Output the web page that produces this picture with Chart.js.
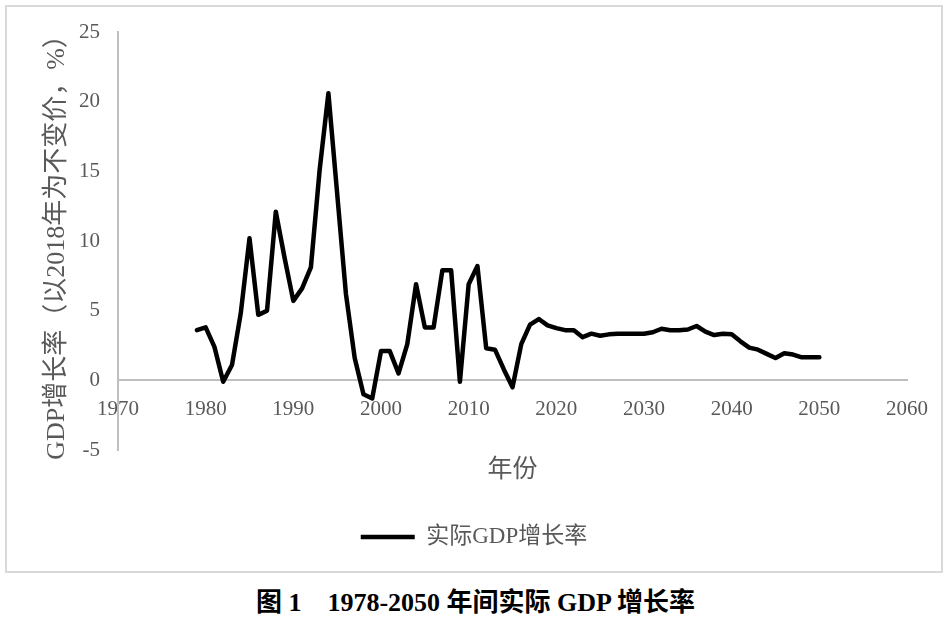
<!DOCTYPE html>
<html>
<head>
<meta charset="utf-8">
<script src="https://cdn.jsdelivr.net/npm/chart.js@4/dist/chart.umd.min.js"></script>
<style>
  html, body { margin: 0; padding: 0; background: #ffffff; }
  body { width: 951px; height: 623px; position: relative; overflow: hidden; }
  #box { position: absolute; left: 5px; top: 5px; width: 934px; height: 564px; border: 2px solid #d9d9d9; }
  #box canvas { display: block; }
  #caption { position: absolute; left: 0; width: 951px; top: 588px; line-height: 30px; text-align: center;
    font-family: "Liberation Serif", "Noto Sans CJK SC", serif; font-weight: bold; font-size: 26px; color: #000; white-space: pre; }
</style>
</head>
<body>
<div id="box"><canvas id="c" width="934" height="564"></canvas></div>
<div id="caption">图 1    1978-2050 年间实际 GDP 增长率</div>
<script>
// Data
const years = [1979,1980,1981,1982,1983,1984,1985,1986,1987,1988,1989,1990,1991,1992,1993,1994,1995,1996,1997,1998,1999,
  2000,2001,2002,2003,2004,2005,2006,2007,2008,2009,2010,2011,2012,2013,2014,2015,2016,2017,2018,2019,
  2020,2021,2022,2023,2024,2025,2026,2027,2028,2029,2030,2031,2032,2033,2034,2035,2036,2037,2038,2039,
  2040,2041,2042,2043,2044,2045,2046,2047,2048,2049,2050];
const growth = [3.6,3.8,2.4,-0.1,1.1,4.8,10.2,4.7,5.0,12.1,8.8,5.7,6.6,8.1,15.1,20.6,13.4,6.2,1.6,-1.0,-1.3,
  2.1,2.1,0.5,2.6,6.9,3.8,3.8,7.9,7.9,-0.1,6.9,8.2,2.3,2.2,0.8,-0.5,2.6,4.0,4.4,3.95,
  3.75,3.6,3.6,3.1,3.35,3.2,3.3,3.35,3.35,3.35,3.35,3.45,3.7,3.6,3.6,3.65,3.9,3.5,3.25,3.35,
  3.3,2.8,2.35,2.2,1.9,1.6,1.95,1.85,1.65,1.65,1.65];
const seriesName = '实际GDP增长率';
const xTitle = '年份';
const yTitle = 'GDP增长率（以2018年为不变价，%）';
const xMin = 1970, xMax = 2060, xStep = 10;
const yMin = -5, yMax = 25, yStep = 5;

const points = years.map((y, i) => ({ x: y, y: growth[i] }));
const gray = '#595959';
const axisGray = '#bfbfbf';
const fam = '"Liberation Serif", "Noto Sans CJK SC", serif';

new Chart(document.getElementById('c'), {
  type: 'line',
  data: {
    datasets: [{
      label: seriesName,
      data: points,
      xAxisID: 'x',
      yAxisID: 'y',
      borderColor: '#000000',
      backgroundColor: '#000000',
      borderWidth: 4.5,
      pointRadius: 0,
      pointStyle: 'line',
      tension: 0,
      borderJoinStyle: 'round',
      borderCapStyle: 'round',
      fill: false
    }]
  },
  options: {
    responsive: false,
    animation: false,
    devicePixelRatio: 1,
    layout: { padding: { left: 22, right: 22, top: 25, bottom: 12.5 } },
    plugins: {
      title: { display: false },
      tooltip: { enabled: false },
      legend: {
        display: true,
        position: 'bottom',
        labels: {
          color: gray,
          font: { family: fam, size: 23 },
          usePointStyle: true,
          pointStyle: 'line',
          pointStyleWidth: 54,
          boxHeight: 5,
          padding: 10
        }
      }
    },
    scales: {
      x: {
        type: 'linear',
        position: { y: 0 },
        min: xMin, max: xMax,
        grid: { display: false, drawTicks: false },
        border: { display: true, color: axisGray, width: 2 },
        afterFit: s => { s.paddingLeft = 0; s.paddingRight = 0; },
        ticks: {
          stepSize: xStep,
          color: gray,
          font: { family: fam, size: 21 },
          padding: 17,
          maxRotation: 0,
          autoSkip: false,
          callback: v => String(v)
        }
      },
      x2: {
        type: 'linear',
        position: 'bottom',
        min: xMin, max: xMax,
        grid: { display: false, drawTicks: false },
        border: { display: false },
        ticks: { display: false },
        afterFit: s => { s.paddingLeft = 0; s.paddingRight = 0; },
        title: {
          display: true,
          text: xTitle,
          color: gray,
          font: { family: fam, size: 25 },
          padding: { top: 5, bottom: 30.5 }
        }
      },
      y: {
        type: 'linear',
        position: 'left',
        min: yMin, max: yMax,
        grid: { display: false, drawTicks: false },
        border: { display: true, color: axisGray, width: 2 },
        afterFit: s => { s.width = 89; s.paddingTop = 0; s.paddingBottom = 0; },
        ticks: {
          stepSize: yStep,
          color: gray,
          font: { family: fam, size: 21 },
          padding: 18,
          callback: v => String(v)
        },
        title: {
          display: true,
          text: yTitle,
          color: gray,
          font: { family: fam, size: 26 },
          padding: { top: 12.4, bottom: 0 }
        }
      },
      y2: {
        type: 'linear',
        position: 'right',
        min: yMin, max: yMax,
        grid: { display: false, drawTicks: false },
        border: { display: false },
        ticks: { display: false },
        afterFit: s => { s.width = 12; s.paddingTop = 0; s.paddingBottom = 0; }
      }
    }
  }
});
</script>
</body>
</html>
